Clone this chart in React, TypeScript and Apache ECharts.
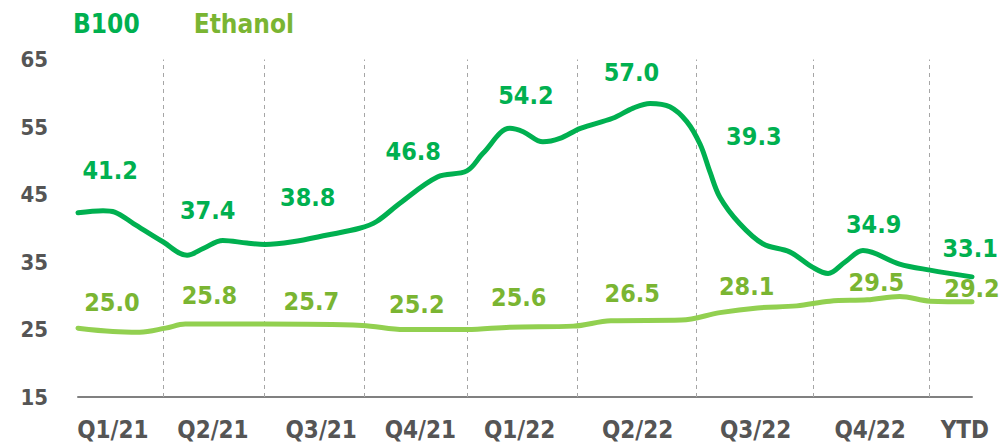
import React, { useEffect, useRef } from "react";
import * as echarts from "echarts";

// ---- Data ----
const categories = ["Q1/21", "Q2/21", "Q3/21", "Q4/21", "Q1/22", "Q2/22", "Q3/22", "Q4/22", "YTD"];
// x positions (week-like index, 0..100) where the category tick labels sit
const categoryCenters = [3.9, 15.1, 27.2, 38.3, 49.4, 62.6, 75.8, 88.6, 99.2];
// period boundaries (dashed separators)
const periodBounds = [9.5, 20.8, 32.0, 43.5, 55.9, 69.2, 82.2, 95.2];
const yTicks = { min: 15, max: 65, interval: 10 };

// period averages (labels)
const b100Avg = [41.2, 37.4, 38.8, 46.8, 54.2, 57.0, 39.3, 34.9, 33.1];
const ethanolAvg = [25.0, 25.8, 25.7, 25.2, 25.6, 26.5, 28.1, 29.5, 29.2];

// price curves [x, value]
const b100Curve: [number, number][] = [
  [0, 42.3], [2.8, 42.6], [4.1, 42.4], [6.2, 40.7], [9.5, 38.0], [12.2, 36.0],
  [14.0, 37.0], [16.2, 38.2], [18.9, 37.8], [20.9, 37.6], [24.0, 38.0], [27.9, 39.0],
  [31.5, 40.0], [33.4, 41.0], [36.0, 43.7], [40.2, 47.6], [43.5, 48.5], [45.3, 51.1],
  [48.3, 54.8], [49.8, 54.3], [52.0, 52.8], [53.9, 53.3], [56.2, 54.8], [59.8, 56.3],
  [62.1, 57.8], [64.0, 58.5], [66.2, 58.0], [68.1, 55.8], [69.6, 52.4], [70.7, 48.3],
  [71.8, 44.6], [74.0, 40.7], [76.6, 37.7], [79.6, 36.5], [82.2, 34.2], [83.9, 33.3],
  [85.8, 35.0], [87.8, 36.7], [91.9, 34.7], [95.3, 33.8], [100, 32.8],
];
const ethanolCurve: [number, number][] = [
  [0, 25.2], [3.9, 24.7], [6.9, 24.6], [9.8, 25.2], [12.0, 25.8], [20.8, 25.8],
  [31.8, 25.6], [36.5, 25.0], [43.5, 25.0], [48.3, 25.35], [55.4, 25.5], [59.6, 26.3],
  [67.5, 26.4], [71.8, 27.5], [76.0, 28.2], [80.4, 28.5], [84.1, 29.2], [88.3, 29.4],
  [91.9, 29.9], [95.3, 29.2], [100, 29.1],
];

// ---- Layout: where the average labels are anchored (axis units) ----
const b100LabelAnchor: [number, number][] = [
  [3.6, 48.5], [14.5, 42.7], [25.7, 44.5], [37.5, 51.3], [50.1, 59.7],
  [61.9, 63.1], [75.6, 53.6], [89.0, 40.6], [99.8, 37.0],
];
const ethanolLabelAnchor: [number, number][] = [
  [3.8, 29.0], [14.7, 30.1], [26.1, 29.2], [37.9, 28.7], [49.3, 29.8],
  [62.0, 30.4], [74.8, 31.4], [89.3, 32.0], [100.0, 31.1],
];

const FONT = "'DejaVu Sans Condensed', 'Liberation Sans Narrow', 'DejaVu Sans', sans-serif";
const GREEN = "#00B050";
const LIGHT_GREEN = "#92D050";
const OLIVE = "#7AB532";
const GREY = "#555555";

export default function App() {
  const ref = useRef<HTMLDivElement>(null);
  useEffect(() => {
    if (!ref.current) return;
    const chart = echarts.init(ref.current, undefined, { renderer: "svg" });
    const labelSeries = (name: string, anchors: [number, number][], values: number[], color: string) => ({
      name,
      type: "scatter",
      symbolSize: 0.1,
      itemStyle: { color: "rgba(0,0,0,0)", opacity: 1 },
      silent: true,
      z: 10,
      data: anchors,
      label: {
        show: true,
        position: "inside",
        formatter: (p: any) => values[p.dataIndex].toFixed(1),
        color,
        opacity: 1,
        textBorderWidth: 0,
        fontFamily: FONT,
        fontWeight: "bold",
        fontSize: 25,
      },
    });
    chart.setOption({
      animation: false,
      legend: {
        top: 11,
        left: 68,
        padding: 0,
        itemWidth: 0,
        itemHeight: 0,
        itemGap: 49,
        icon: "rect",
        selectedMode: false,
        data: [
          { name: "B100", textStyle: { color: GREEN } },
          { name: "Ethanol", textStyle: { color: OLIVE } },
        ],
        textStyle: { fontFamily: FONT, fontWeight: "bold", fontSize: 26 },
      },
      grid: { left: 78, right: 27, top: 59.5, bottom: 47 },
      xAxis: {
        type: "value",
        min: 0,
        max: 100,
        splitLine: { show: false },
        axisTick: { show: false },
        axisLine: { show: true, lineStyle: { color: "#808080", width: 2 } },
        axisLabel: {
          customValues: categoryCenters,
          formatter: (v: number) => {
            let best = 0;
            categoryCenters.forEach((c, i) => {
              if (Math.abs(c - v) < Math.abs(categoryCenters[best] - v)) best = i;
            });
            return categories[best];
          },
          margin: 21,
          color: GREY,
          fontFamily: FONT,
          fontWeight: "bold",
          fontSize: 24,
        },
      },
      yAxis: {
        type: "value",
        min: yTicks.min,
        max: yTicks.max,
        interval: yTicks.interval,
        splitLine: { show: false },
        axisLine: { show: false },
        axisTick: { show: false },
        axisLabel: {
          margin: 30,
          color: GREY,
          fontFamily: FONT,
          fontWeight: "bold",
          fontSize: 22,
        },
      },
      series: [
        {
          name: "B100",
          type: "line",
          data: b100Curve,
          smooth: 0.35,
          showSymbol: false,
          symbol: "none",
          color: GREEN,
          lineStyle: { color: GREEN, width: 5, cap: "round" },
          z: 3,
          markLine: {
            silent: true,
            symbol: ["none", "none"],
            label: { show: false },
            lineStyle: { color: "#A6A6A6", width: 1, type: [4, 4] },
            data: periodBounds.map((b) => ({ xAxis: b })),
            z: 1,
          },
        },
        {
          name: "Ethanol",
          type: "line",
          data: ethanolCurve,
          smooth: 0.35,
          showSymbol: false,
          symbol: "none",
          color: LIGHT_GREEN,
          lineStyle: { color: LIGHT_GREEN, width: 5, cap: "round" },
          z: 2,
        },
        labelSeries("B100 avg", b100LabelAnchor, b100Avg, GREEN),
        labelSeries("Ethanol avg", ethanolLabelAnchor, ethanolAvg, OLIVE),
      ],
    });
    return () => chart.dispose();
  }, []);
  return (
    <div
      ref={ref}
      style={{ position: "absolute", left: 0, top: 0, width: 999, height: 444, background: "#fff" }}
    />
  );
}
